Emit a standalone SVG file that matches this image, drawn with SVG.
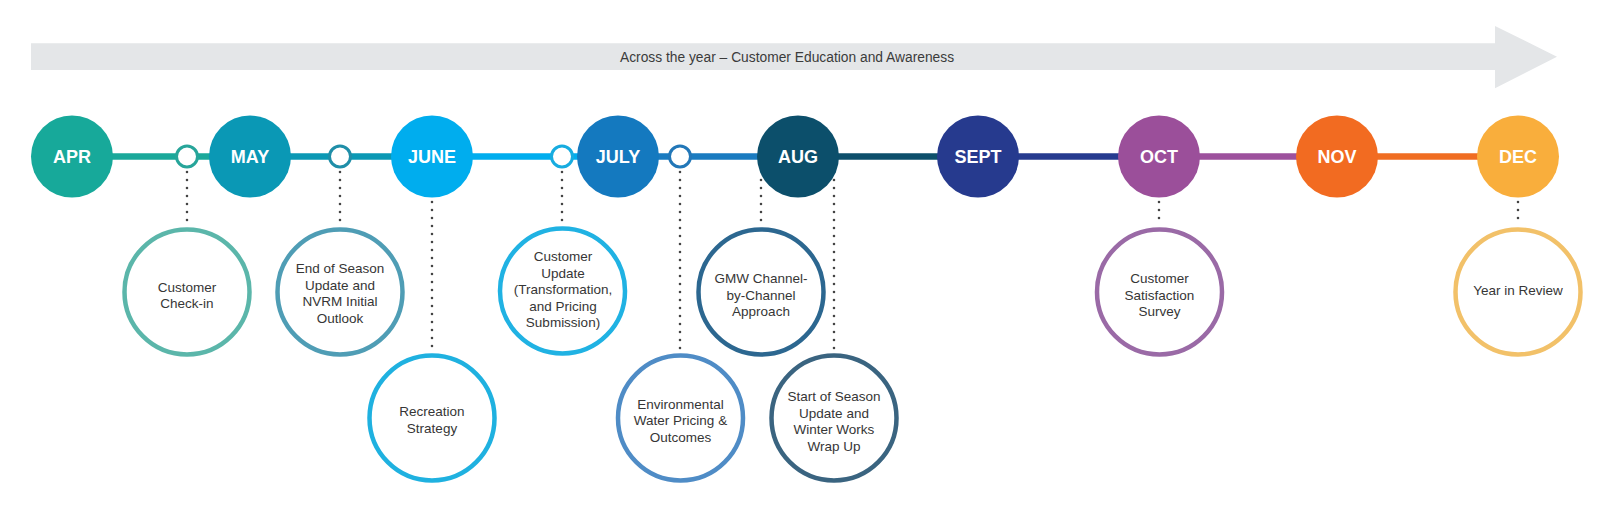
<svg xmlns="http://www.w3.org/2000/svg" width="1599" height="527" viewBox="0 0 1599 527">
<style>
.month{font-family:"Liberation Sans",Arial,sans-serif;font-weight:bold;font-size:18px;fill:#ffffff;text-anchor:middle}
.ev{font-family:"Liberation Sans",Arial,sans-serif;font-size:13.5px;fill:#363636;text-anchor:middle}
.banner{font-family:"Liberation Sans",Arial,sans-serif;font-size:13.8px;fill:#3b3b3b;text-anchor:middle}
.evc{fill:#ffffff;stroke-width:4.5}
.sc{fill:#ffffff;stroke-width:3}
.seg{stroke-width:6.5;fill:none}
.dot{stroke:#444;stroke-width:2.6;stroke-linecap:round;stroke-dasharray:0 8;fill:none}
</style>
<rect width="1599" height="527" fill="#ffffff"/>
<g id="banner">
<polygon points="31,43.3 1495,43.3 1495,26 1557,56.7 1495,88.3 1495,70 31,70" fill="#e4e6e8"/>
<text class="banner" x="787" y="62">Across the year – Customer Education and Awareness</text>
</g>
<g id="connectors">
<line class="seg" x1="72" y1="156.5" x2="250" y2="156.5" stroke="#1aa89a"/>
<line class="seg" x1="250" y1="156.5" x2="432" y2="156.5" stroke="#0b98b4"/>
<line class="seg" x1="432" y1="156.5" x2="618" y2="156.5" stroke="#00adee"/>
<line class="seg" x1="618" y1="156.5" x2="798" y2="156.5" stroke="#1a7bc0"/>
<line class="seg" x1="798" y1="156.5" x2="978" y2="156.5" stroke="#0d4f6b"/>
<line class="seg" x1="978" y1="156.5" x2="1159" y2="156.5" stroke="#263b8f"/>
<line class="seg" x1="1159" y1="156.5" x2="1337" y2="156.5" stroke="#9d519d"/>
<line class="seg" x1="1337" y1="156.5" x2="1518" y2="156.5" stroke="#f06d22"/>
<line class="dot" x1="187" y1="172" x2="187" y2="226"/>
<line class="dot" x1="340" y1="172" x2="340" y2="226"/>
<line class="dot" x1="432" y1="202" x2="432" y2="352"/>
<line class="dot" x1="562" y1="172" x2="562" y2="225"/>
<line class="dot" x1="680" y1="172" x2="680" y2="352"/>
<line class="dot" x1="761" y1="180" x2="761" y2="225"/>
<line class="dot" x1="834" y1="180" x2="834" y2="352"/>
<line class="dot" x1="1159" y1="202" x2="1159" y2="225"/>
<line class="dot" x1="1518" y1="202" x2="1518" y2="225"/>
</g>
<g id="m1"><circle class="sc" cx="187" cy="156.5" r="10.5" stroke="#27a59a"/></g>
<g id="m2"><circle class="sc" cx="340" cy="156.5" r="10.5" stroke="#1f8ea8"/></g>
<g id="m3"><circle class="sc" cx="562" cy="156.5" r="10.5" stroke="#17ace0"/></g>
<g id="m4"><circle class="sc" cx="680" cy="156.5" r="10.5" stroke="#2277b8"/></g>
<g id="apr"><circle cx="72" cy="156.5" r="41" fill="#17a99a"/><text class="month" x="72" y="163">APR</text></g>
<g id="may"><circle cx="250" cy="156.5" r="41" fill="#0a98b5"/><text class="month" x="250" y="163">MAY</text></g>
<g id="june"><circle cx="432" cy="156.5" r="41" fill="#00adee"/><text class="month" x="432" y="163">JUNE</text></g>
<g id="july"><circle cx="618" cy="156.5" r="41" fill="#1479bf"/><text class="month" x="618" y="163">JULY</text></g>
<g id="aug"><circle cx="798" cy="156.5" r="41" fill="#0c4f6b"/><text class="month" x="798" y="163">AUG</text></g>
<g id="sept"><circle cx="978" cy="156.5" r="41" fill="#263a8e"/><text class="month" x="978" y="163">SEPT</text></g>
<g id="oct"><circle cx="1159" cy="156.5" r="41" fill="#9b4f9a"/><text class="month" x="1159" y="163">OCT</text></g>
<g id="nov"><circle cx="1337" cy="156.5" r="41" fill="#f26b21"/><text class="month" x="1337" y="163">NOV</text></g>
<g id="dec"><circle cx="1518" cy="156.5" r="41" fill="#f9ae3c"/><text class="month" x="1518" y="163">DEC</text></g>
<g id="checkin"><circle class="evc" cx="187" cy="292" r="62.5" stroke="#5bb6aa"/>
<text class="ev" x="187"><tspan x="187" y="291.5">Customer</tspan><tspan x="187" y="308">Check-in</tspan></text></g>
<g id="endseason"><circle class="evc" cx="340" cy="292" r="62.5" stroke="#4f9db5"/>
<text class="ev"><tspan x="340" y="273.2">End of Season</tspan><tspan x="340" y="289.7">Update and</tspan><tspan x="340" y="306.2">NVRM Initial</tspan><tspan x="340" y="322.7">Outlook</tspan></text></g>
<g id="recreation"><circle class="evc" cx="432" cy="418" r="62.5" stroke="#1fb1e0"/>
<text class="ev"><tspan x="432" y="416">Recreation</tspan><tspan x="432" y="432.5">Strategy</tspan></text></g>
<g id="custupdate"><circle class="evc" cx="562.5" cy="291" r="62.5" stroke="#20b2e3"/>
<text class="ev"><tspan x="563" y="261">Customer</tspan><tspan x="563" y="277.5">Update</tspan><tspan x="563" y="294">(Transformation,</tspan><tspan x="563" y="310.5">and Pricing</tspan><tspan x="563" y="327">Submission)</tspan></text></g>
<g id="envwater"><circle class="evc" cx="680.5" cy="418" r="62.5" stroke="#4f8cc6"/>
<text class="ev"><tspan x="680.5" y="408.5">Environmental</tspan><tspan x="680.5" y="425">Water Pricing &amp;</tspan><tspan x="680.5" y="441.5">Outcomes</tspan></text></g>
<g id="gmw"><circle class="evc" cx="761" cy="292" r="62.5" stroke="#2c6790"/>
<text class="ev"><tspan x="761" y="283">GMW Channel-</tspan><tspan x="761" y="299.5">by-Channel</tspan><tspan x="761" y="316">Approach</tspan></text></g>
<g id="startseason"><circle class="evc" cx="834" cy="418" r="62.5" stroke="#3a6480"/>
<text class="ev"><tspan x="834" y="401">Start of Season</tspan><tspan x="834" y="417.5">Update and</tspan><tspan x="834" y="434">Winter Works</tspan><tspan x="834" y="450.5">Wrap Up</tspan></text></g>
<g id="satisfaction"><circle class="evc" cx="1159.5" cy="292" r="62.5" stroke="#9a6aa6"/>
<text class="ev"><tspan x="1159.5" y="283">Customer</tspan><tspan x="1159.5" y="299.5">Satisfaction</tspan><tspan x="1159.5" y="316">Survey</tspan></text></g>
<g id="review"><circle class="evc" cx="1518" cy="292" r="62.5" stroke="#f2c169"/>
<text class="ev"><tspan x="1518" y="294.5">Year in Review</tspan></text></g>
</svg>
